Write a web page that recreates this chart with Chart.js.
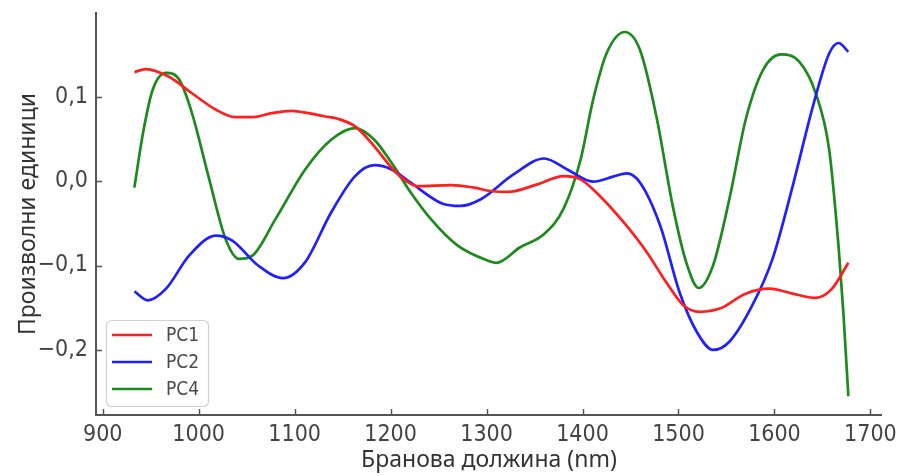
<!DOCTYPE html>
<html>
<head>
<meta charset="utf-8">
<script src="https://cdn.jsdelivr.net/npm/chart.js@4/dist/chart.umd.min.js"></script>
<style>
  html, body { margin: 0; padding: 0; background: #ffffff; }
  #wrap { width: 903px; height: 476px; position: relative; }
</style>
</head>
<body>
<div id="wrap"><canvas id="c" width="903" height="476"></canvas></div>
<script>
// ---- Data ----
const seriesNames = ['PC1', 'PC2', 'PC4'];

const pc1Wavelength = [933, 945, 969, 993, 1018, 1038, 1056, 1076, 1097, 1114, 1132, 1145, 1163, 1183, 1201, 1214, 1228, 1263, 1287, 1304, 1322, 1353, 1380, 1398, 1418, 1443, 1467, 1487, 1505, 1522, 1543, 1570, 1595, 1619, 1643, 1660, 1677];
const pc1Values = [0.129, 0.1326, 0.1235, 0.104, 0.0844, 0.0757, 0.0757, 0.0805, 0.0832, 0.0805, 0.0765, 0.0738, 0.0647, 0.0412, 0.0158, 0.002, -0.0059, -0.0047, -0.0078, -0.0118, -0.0129, -0.0039, 0.0059, 0.002, -0.0176, -0.049, -0.0842, -0.1195, -0.147, -0.1548, -0.151, -0.1333, -0.1274, -0.1333, -0.1384, -0.1274, -0.0968];

const pc2Wavelength = [933, 947, 966, 990, 1018, 1035, 1062, 1088, 1111, 1138, 1163, 1183, 1201, 1221, 1253, 1273, 1294, 1328, 1360, 1384, 1411, 1432, 1446, 1460, 1481, 1501, 1519, 1536, 1553, 1577, 1598, 1619, 1640, 1657, 1667, 1677];
const pc2Values = [-0.1306, -0.1412, -0.1274, -0.0882, -0.0647, -0.0706, -0.1, -0.1149, -0.096, -0.0372, 0.0059, 0.0188, 0.0138, -0.0019, -0.0262, -0.0294, -0.0215, 0.0079, 0.0267, 0.0138, -0.0007, 0.0052, 0.0091, -0.0019, -0.0529, -0.1313, -0.1784, -0.2, -0.1902, -0.147, -0.0921, -0.0059, 0.0882, 0.151, 0.1635, 0.153];

const pc4Wavelength = [933, 942, 952, 966, 980, 993, 1011, 1028, 1042, 1056, 1080, 1111, 1138, 1163, 1183, 1201, 1221, 1242, 1270, 1301, 1310, 1335, 1360, 1380, 1398, 1411, 1425, 1444, 1460, 1477, 1494, 1508, 1521, 1536, 1553, 1570, 1588, 1607, 1626, 1643, 1657, 1667, 1672, 1677];
const pc4Values = [-0.0078, 0.057, 0.1079, 0.1282, 0.1196, 0.0805, 0.002, -0.0686, -0.0921, -0.0882, -0.0451, 0.0138, 0.049, 0.0628, 0.049, 0.0216, -0.0136, -0.0451, -0.0765, -0.0941, -0.0968, -0.0784, -0.0627, -0.0333, 0.0255, 0.0961, 0.151, 0.1765, 0.155, 0.0765, -0.0294, -0.096, -0.1266, -0.1, -0.0215, 0.0726, 0.1314, 0.1499, 0.1412, 0.104, 0.0373, -0.0804, -0.159, -0.2548];

const seriesColors = ['#ff1f1f', '#1f1fff', '#1c8a1c'];

const xTickValues = [900, 1000, 1100, 1200, 1300, 1400, 1500, 1600, 1700];
const yTickValues = [-0.2, -0.1, 0.0, 0.1];

const xTitle = 'Бранова должина (nm)';
const yTitle = 'Произволни единици';

// ---- Build datasets ----
function toPoints(xs, ys) { return xs.map((x, i) => ({ x: x, y: ys[i] })); }
const allX = [pc1Wavelength, pc2Wavelength, pc4Wavelength];
const allY = [pc1Values, pc2Values, pc4Values];
const datasets = seriesNames.map((name, i) => ({
  label: name,
  data: toPoints(allX[i], allY[i]),
  borderColor: seriesColors[i],
  backgroundColor: seriesColors[i],
  borderWidth: 2.7,
  pointRadius: 0,
  fill: false,
  cubicInterpolationMode: 'monotone'
}));

const spineColor = '#555555';
const tickFamily = '"DejaVu Sans Condensed", "DejaVu Sans"';
const tickFont = { family: tickFamily, size: 23 };
const titleFont = { family: '"Noto Sans", "Liberation Sans"', size: 23 };

// inward tick marks (matplotlib style)
const inwardTicks = {
  id: 'inwardTicks',
  afterDatasetsDraw(chart) {
    const ctx = chart.ctx;
    const xs = chart.scales.x, ys = chart.scales.y;
    const ca = chart.chartArea;
    ctx.save();
    ctx.strokeStyle = spineColor;
    ctx.lineWidth = 1.5;
    xTickValues.forEach(v => {
      const px = Math.round(xs.getPixelForValue(v)) + 0.5;
      ctx.beginPath(); ctx.moveTo(px, ca.bottom); ctx.lineTo(px, ca.bottom - 6); ctx.stroke();
    });
    yTickValues.forEach(v => {
      const py = Math.round(ys.getPixelForValue(v)) + 0.5;
      ctx.beginPath(); ctx.moveTo(ca.left, py); ctx.lineTo(ca.left + 6, py); ctx.stroke();
    });
    ctx.restore();
  }
};

// legend drawn inside the plot, lower-left
const innerLegend = {
  id: 'innerLegend',
  afterDatasetsDraw(chart) {
    const ctx = chart.ctx;
    const ca = chart.chartArea;
    const dsets = chart.data.datasets;
    const rowH = 27;
    const boxW = 102, boxH = 5 + rowH * dsets.length;
    const bx = ca.left + 10, by = ca.bottom - 9 - boxH;
    ctx.save();
    ctx.beginPath();
    ctx.roundRect(bx + 0.5, by + 0.5, boxW, boxH, 5);
    ctx.fillStyle = 'rgba(255,255,255,0.85)';
    ctx.fill();
    ctx.strokeStyle = '#d0d0d0';
    ctx.lineWidth = 1.2;
    ctx.stroke();
    ctx.font = '19px ' + tickFamily;
    ctx.textBaseline = 'middle';
    dsets.forEach((d, i) => {
      const cy = by + 15 + i * rowH;
      ctx.strokeStyle = d.borderColor;
      ctx.lineWidth = 2.7;
      ctx.beginPath(); ctx.moveTo(bx + 6, cy); ctx.lineTo(bx + 46, cy); ctx.stroke();
      ctx.fillStyle = '#4a4a4a';
      ctx.fillText(d.label, bx + 60, cy + 1);
    });
    ctx.restore();
  }
};

function fmt(v) {
  const s = Math.abs(v).toFixed(1).replace('.', ',');
  return (v < -1e-9 ? '\u2212' : '') + s;
}

new Chart(document.getElementById('c'), {
  type: 'line',
  data: { datasets: datasets },
  options: {
    responsive: false,
    animation: false,
    layout: { padding: { top: 13, right: 18, left: 0, bottom: 0 } },
    plugins: { legend: { display: false }, tooltip: { enabled: false } },
    scales: {
      x: {
        type: 'linear',
        min: 893, max: 1712,
        afterFit(s) { s.height = 61; },
        afterBuildTicks(s) { s.ticks = xTickValues.map(v => ({ value: v })); },
        grid: { display: true, drawOnChartArea: false, drawTicks: false },
        border: { display: true, color: spineColor, width: 2 },
        ticks: { font: tickFont, color: '#444444', padding: 6, maxRotation: 0, callback: v => String(v) },
        title: { display: true, text: xTitle, font: titleFont, color: '#333333', padding: { top: 0, bottom: 2 } }
      },
      y: {
        type: 'linear',
        min: -0.277, max: 0.199,
        afterFit(s) { s.width = 96; s.paddingTop = 0; s.paddingBottom = 0; },
        afterBuildTicks(s) { s.ticks = yTickValues.map(v => ({ value: v })); },
        grid: { display: true, drawOnChartArea: false, drawTicks: false },
        border: { display: true, color: spineColor, width: 2 },
        ticks: { font: tickFont, color: '#444444', padding: 8, callback: v => fmt(v) },
        title: { display: true, text: yTitle, font: titleFont, color: '#333333', padding: { top: 15, bottom: 0 } }
      }
    }
  },
  plugins: [inwardTicks, innerLegend]
});
</script>
</body>
</html>
